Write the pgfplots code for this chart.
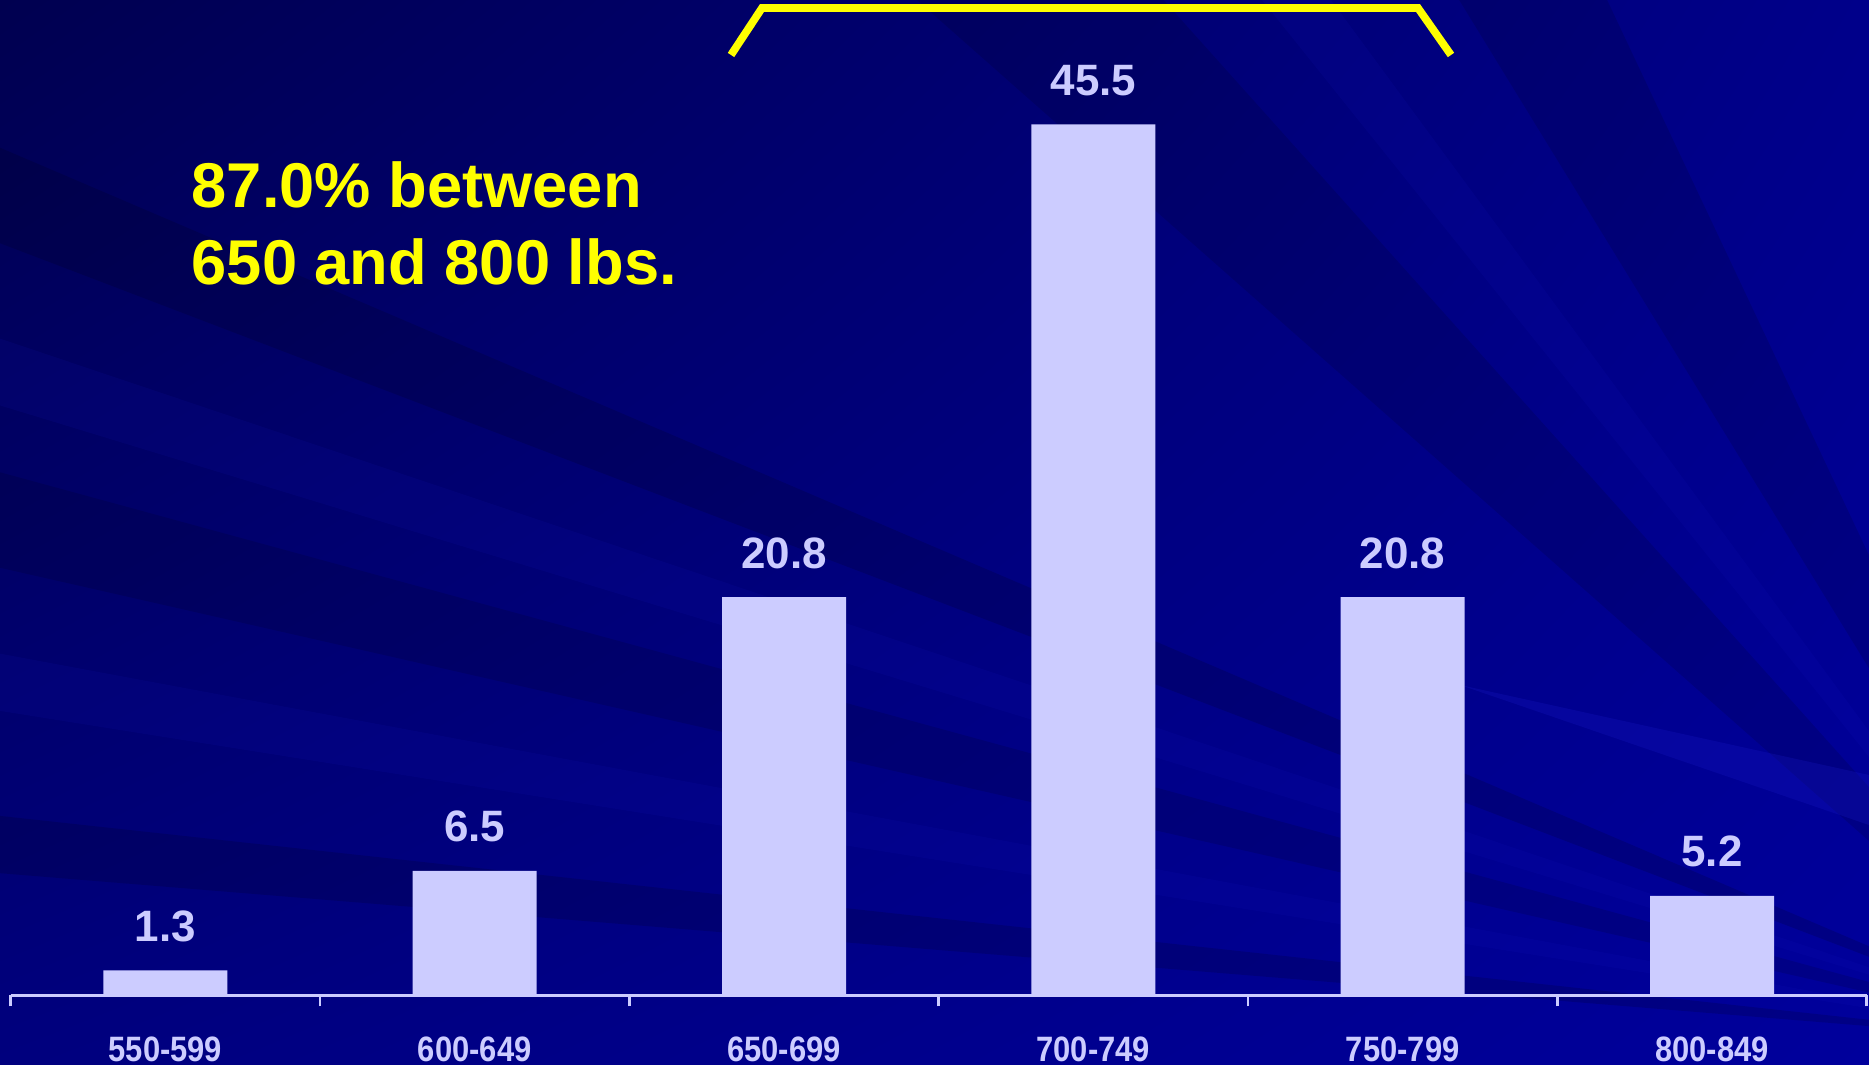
\documentclass[border=0pt]{standalone}
\usepackage{pgfplots}
\pgfplotsset{compat=1.18}
\usetikzlibrary{shadings}
\usepackage{fontspec}
\setmainfont{Liberation Sans}
\definecolor{barc}{HTML}{CCCCFF}
\definecolor{yel}{HTML}{FFFF00}
\definecolor{cUL}{HTML}{000050}
\definecolor{cUR}{HTML}{00008A}
\definecolor{cLL}{HTML}{00007E}
\definecolor{cLR}{HTML}{00009C}
\definecolor{ray}{HTML}{1A1AC8}
\newcommand{\tl}[1]{\scalebox{1}[1.14]{#1}}
\begin{document}
\begin{tikzpicture}[x=1cm,y=1cm]
\useasboundingbox (0,0) rectangle (18.69,10.65);
\begin{scope}
\clip (0,0) rectangle (18.69,10.65);
\shade[upper left=cUL, upper right=cUR, lower left=cLL, lower right=cLR] (0,0) rectangle (18.69,10.65);
% faint rays
\fill[black, opacity=0.14] (21,0.2) -- (-1,9.6) -- (-1,8.6) -- cycle;
\fill[black, opacity=0.12] (21,0.2) -- (-1,6.2) -- (-1,5.2) -- cycle;
\fill[black, opacity=0.14] (21,0.2) -- (-1,2.6) -- (-1,2.0) -- cycle;
\fill[black, opacity=0.12] (21,0.2) -- (9,10.8) -- (11.5,10.8) -- cycle;
\fill[black, opacity=0.12] (21,0.2) -- (14.5,10.8) -- (16.0,10.8) -- cycle;
\fill[ray, opacity=0.10] (21,0.2) -- (-1,7.6) -- (-1,6.9) -- cycle;
\fill[ray, opacity=0.10] (21,0.2) -- (-1,4.3) -- (-1,3.7) -- cycle;
\fill[ray, opacity=0.10] (21,0.2) -- (12.5,10.8) -- (13.2,10.8) -- cycle;
\fill[ray, opacity=0.25] (14.6,3.8) -- (18.69,2.9) -- (18.69,2.4) -- cycle;
\end{scope}
\begin{axis}[
  at={(0.107cm,0.697cm)}, anchor=south west,
  scale only axis, width=18.56cm, height=9.953cm,
  xmin=-0.5, xmax=5.5, ymin=0, ymax=52,
  axis x line=bottom, hide y axis,
  x axis line style={-, draw=barc, line width=0.8pt},
  xtick={0,1,2,3,4,5},
  xticklabels={\tl{550-599},\tl{600-649},\tl{650-699},\tl{700-749},\tl{750-799},\tl{800-849}},
  major tick length=0pt,
  minor xtick={-0.5,0.5,1.5,2.5,3.5,4.5,5.5},
  minor tick length=0.11cm,
  tick align=outside,
  minor tick style={draw=barc, line width=0.8pt},
  xticklabel style={anchor=base, yshift=-0.66cm, inner sep=0pt, text=barc, font=\bfseries\fontsize{8.8}{10}\selectfont},
  /pgf/number format/assume math mode=true,
  ybar, bar width=1.24cm,
  nodes near coords,
  every node near coord/.append style={anchor=base, yshift=0.29cm, text=barc, font=\bfseries\fontsize{12.5}{14}\selectfont},
  clip=false,
]
\addplot[fill=barc, draw=none] coordinates {(0,1.3) (1,6.5) (2,20.8) (3,45.5) (4,20.8) (5,5.2)};
\end{axis}
\node[anchor=base west, inner sep=0pt, text=yel, font=\bfseries\fontsize{18}{21}\selectfont] at (1.91,8.57) {87.0\% between};
\node[anchor=base west, inner sep=0pt, text=yel, font=\bfseries\fontsize{18}{21}\selectfont] at (1.91,7.80) {650 and 800 lbs.};
\draw[yel, line width=2.2pt] (7.31,10.10) -- (7.62,10.57) -- (14.18,10.57) -- (14.51,10.10);
\end{tikzpicture}
\end{document}
